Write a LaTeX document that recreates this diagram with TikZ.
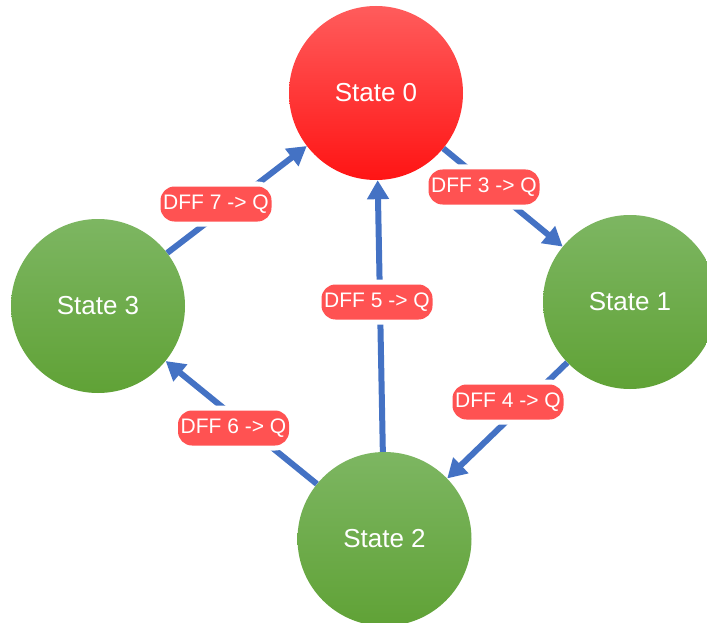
\documentclass[tikz,border=0pt]{standalone}
\usepackage{fontspec}
\setmainfont{Liberation Sans}
\usetikzlibrary{arrows.meta}
\definecolor{edgeblue}{HTML}{4472C4}
\definecolor{lblred}{HTML}{FF5252}
\definecolor{redtop}{HTML}{FF5C5C}
\definecolor{redbot}{HTML}{FF1414}
\definecolor{greentop}{HTML}{7DB662}
\definecolor{greenbot}{HTML}{60A236}
\tikzset{
  statebox/.style={circle, minimum size=174pt, inner sep=0pt, text=white,
    font=\fontsize{26}{30}\selectfont},
  redstate/.style={statebox, top color=redtop, bottom color=redbot},
  greenstate/.style={statebox, top color=greentop, bottom color=greenbot},
  edge/.style={draw=edgeblue, line width=6pt, -{Triangle[length=19pt,width=21pt]}},
  lbl/.style={rectangle, rounded corners=14pt, minimum width=111pt, minimum height=35pt,
    inner sep=0pt, fill=lblred, text=white, font=\fontsize{21}{24}\selectfont,
    preaction={draw=white, line width=10pt}}
}
\begin{document}
\begin{tikzpicture}[x=1pt,y=-1pt]
\useasboundingbox (0,0) rectangle (707,623);
\clip (0,0) rectangle (707,623);
\fill[white] (0,0) rectangle (707,623);
\node[redstate] (s0) at (376,93) {State 0};
\node[greenstate] (s1) at (630,302) {State 1};
\node[greenstate] (s2) at (384.5,539) {State 2};
\node[greenstate] (s3) at (98,306) {State 3};
\draw[edge] (s3) -- (s0);
\draw[edge] (s0) -- (s1);
\draw[edge] (s1) -- (s2);
\draw[edge] (s2) -- (s3);
\draw[edge] (s2) -- (s0);
\node[lbl] (l7) at (216,204) {DFF 7 -> Q};
\node[lbl] (l3) at (484,187) {DFF 3 -> Q};
\node[lbl] (l4) at (508,402) {DFF 4 -> Q};
\node[lbl] (l6) at (233.5,428) {DFF 6 -> Q};
\node[lbl] (l5) at (377,302) {DFF 5 -> Q};
\end{tikzpicture}
\end{document}
